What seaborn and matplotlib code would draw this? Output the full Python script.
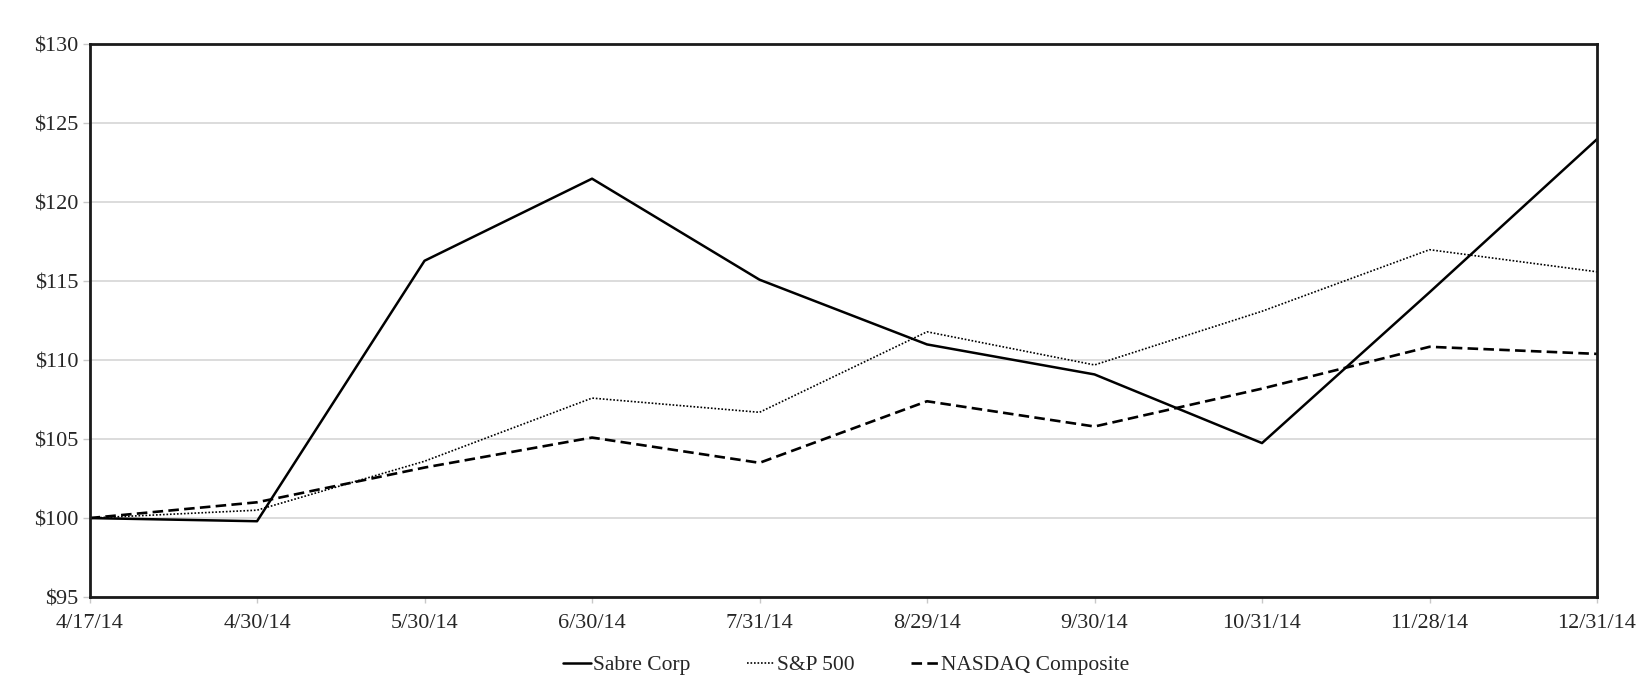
import matplotlib
matplotlib.use("Agg")
import matplotlib.pyplot as plt
import seaborn as sns
import pandas as pd
import numpy as np
from matplotlib.lines import Line2D

dates = ["4/17/14", "4/30/14", "5/30/14", "6/30/14", "7/31/14", "8/29/14",
         "9/30/14", "10/31/14", "11/28/14", "12/31/14"]
sabre = [100.0, 99.8, 116.3, 121.5, 115.1, 111.0, 109.1, 104.75, 114.3, 124.0]
sp500 = [100.0, 100.5, 103.6, 107.6, 106.7, 111.8, 109.7, 113.1, 117.0, 115.6]
nasdaq = [100.0, 101.0, 103.2, 105.1, 103.5, 107.4, 105.8, 108.2, 110.85, 110.4]
series_names = ["Sabre Corp", "S&P 500", "NASDAQ Composite"]
yticks = [95, 100, 105, 110, 115, 120, 125, 130]

sns.set_style("white")
plt.rcParams["font.family"] = ["Liberation Serif", "DejaVu Serif"]

rows = []
for name, vals in zip(series_names, [sabre, sp500, nasdaq]):
    for i, v in enumerate(vals):
        rows.append({"idx": i, "value": v, "series": name})
df = pd.DataFrame(rows)

fig = plt.figure(figsize=(16.43, 6.95), dpi=100)
ax = fig.add_axes([0.0545, 0.141, 0.9175, 0.795])

dashes = {"Sabre Corp": "", "S&P 500": (1, 1.1), "NASDAQ Composite": (4, 2)}
sns.lineplot(data=df, x="idx", y="value", hue="series", style="series",
             palette={n: "black" for n in series_names}, dashes=dashes,
             hue_order=series_names, style_order=series_names,
             ax=ax, legend=False, linewidth=1.6)
widths = [1.8, 1.2, 1.9]
for line, lw in zip(ax.get_lines(), widths):
    line.set_linewidth(lw)

ax.set_xlim(0, len(dates) - 1)
ax.set_ylim(95, 130)
ax.set_yticks(yticks)
ax.set_yticklabels([f"${t}" for t in yticks])
ax.set_xticks(range(len(dates)))
ax.set_xticklabels(dates)
ax.set_xlabel("")
ax.set_ylabel("")
ax.yaxis.grid(True, color="#d9d9d9", linewidth=1.3)
ax.xaxis.grid(False)
ax.set_axisbelow(True)
for s in ax.spines.values():
    s.set_color("#1a1a1a")
    s.set_linewidth(2.0)
ax.tick_params(axis="y", length=5, width=1, color="#c8c8c8",
               labelsize=16, pad=3, left=True)
ax.tick_params(axis="x", length=4, width=1, color="#c8c8c8",
               labelsize=16, pad=8, bottom=True)

handles = [Line2D([], [], color="black", lw=widths[0], linestyle="-"),
           Line2D([], [], color="black", lw=widths[1], linestyle=(0, (1, 1.1))),
           Line2D([], [], color="black", lw=widths[2], linestyle=(0, (4, 2)))]
fig.legend(handles, series_names, loc="center", bbox_to_anchor=(0.515, 0.043),
           ncol=3, frameon=False, fontsize=15.5, handlelength=1.3,
           handletextpad=0.12, columnspacing=2.6)

fig.savefig("out.png", dpi=100)
